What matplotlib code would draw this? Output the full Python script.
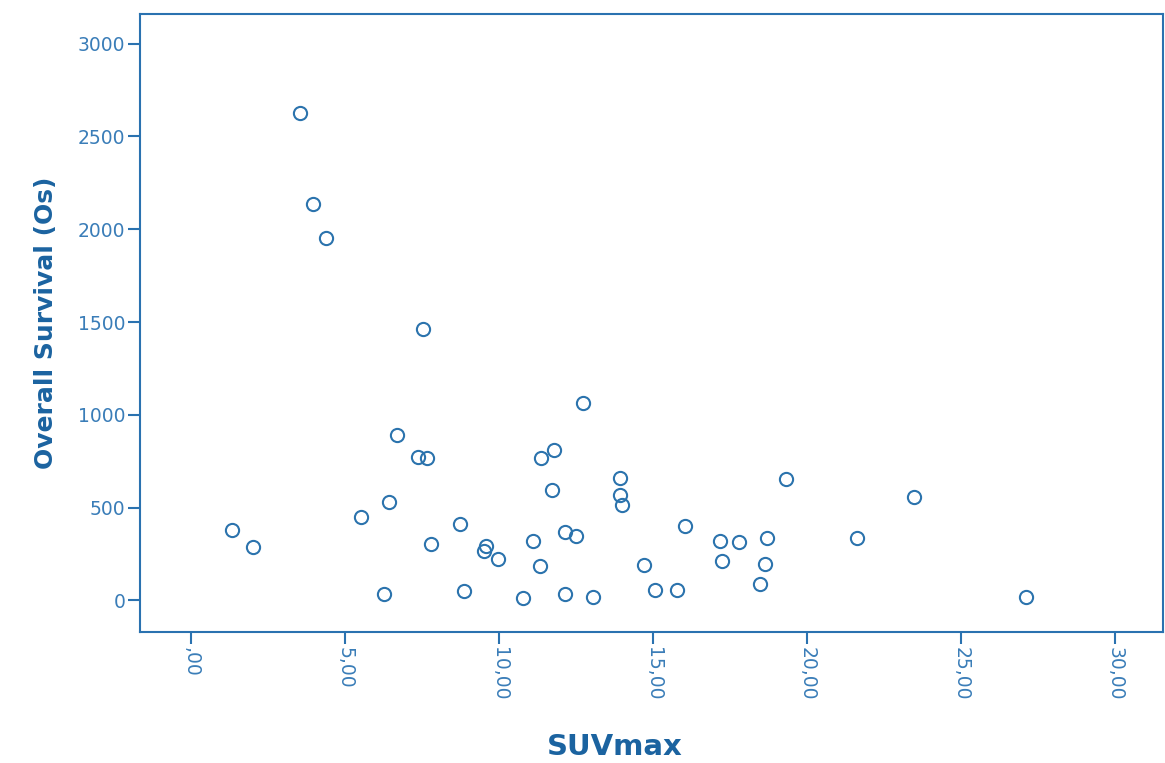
import matplotlib
matplotlib.use("Agg")
import matplotlib.pyplot as plt

# --- dados ---
suvmax = [1.34, 2.00, 3.54, 3.97, 4.38, 5.53, 6.26, 6.44, 6.68, 7.38,
          7.67, 7.52, 7.79, 8.74, 8.86, 9.58, 9.52, 9.98, 10.78, 11.10,
          11.35, 11.34, 11.72, 11.78, 12.15, 12.15, 12.51, 12.72, 13.04, 13.94,
          13.94, 13.99, 14.72, 15.06, 15.78, 16.05, 17.18, 17.25, 17.80, 18.46,
          18.63, 18.70, 19.31, 21.63, 23.46, 27.10]
overall_survival = [380, 290, 2628, 2136, 1953, 450, 35, 531, 892, 775,
                    769, 1461, 304, 411, 53, 295, 268, 222, 13, 322,
                    769, 188, 595, 809, 33, 367, 348, 1062, 20, 658,
                    570, 515, 191, 57, 55, 401, 319, 214, 315, 87,
                    195, 337, 656, 337, 556, 20]

x_ticks = [0, 5, 10, 15, 20, 25, 30]
x_tick_labels = [",00", "5,00", "10,00", "15,00", "20,00", "25,00", "30,00"]
y_ticks = [0, 500, 1000, 1500, 2000, 2500, 3000]

COR_EIXO = "#2a72b0"
COR_TEXTO = "#3a7db8"
COR_ROTULO = "#1b63a0"
COR_PONTO = "#2b73ad"

fig = plt.figure(figsize=(11.65, 7.63), dpi=100)
ax = fig.add_axes([140 / 1165, 131 / 763, 1023 / 1165, 618 / 763])

ax.plot(suvmax, overall_survival, linestyle="none", marker="o", markersize=9.5,
        markerfacecolor="none", markeredgecolor=COR_PONTO, markeredgewidth=1.5)

ax.set_xlim(-1.66, 31.56)
ax.set_ylim(-170, 3160)

ax.set_xticks(x_ticks)
ax.set_xticklabels(x_tick_labels, rotation=270)
ax.set_yticks(y_ticks)

for sp in ax.spines.values():
    sp.set_color(COR_EIXO)
    sp.set_linewidth(1.5)

ax.tick_params(axis="both", direction="out", length=8.5, width=1.5,
               color=COR_EIXO, labelcolor=COR_TEXTO, labelsize=13.5)
ax.tick_params(axis="x", pad=2)
ax.tick_params(axis="y", pad=2)

ax.set_xlabel("SUVmax", fontsize=21, fontweight="bold", color=COR_ROTULO)
ax.xaxis.set_label_coords(0.464, -0.163)
ax.set_ylabel("Overall Survival (Os)", fontsize=18, fontweight="bold", color=COR_ROTULO, labelpad=14)

fig.savefig("out.png", dpi=100)
